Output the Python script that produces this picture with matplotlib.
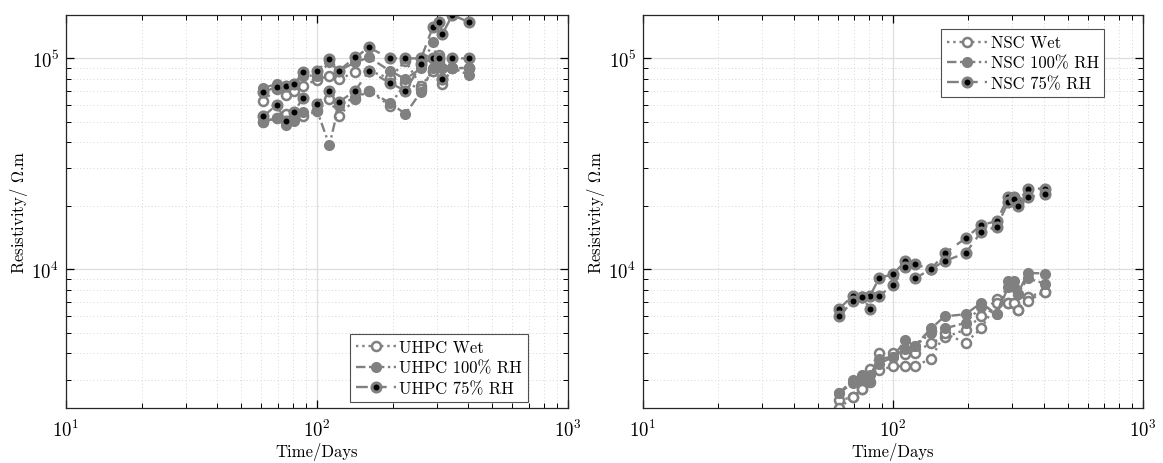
import matplotlib
matplotlib.use('Agg')
import matplotlib.pyplot as plt
from matplotlib.ticker import LogLocator, NullFormatter

plt.rcParams['font.family'] = ['cmr10', 'DejaVu Serif']
plt.rcParams['mathtext.fontset'] = 'cm'
plt.rcParams['axes.formatter.use_mathtext'] = True

# ages of the measurements (days), shared by every series
days = [61, 69, 75, 81, 88, 100, 112, 122, 142, 161, 195, 225, 260, 289, 306, 316, 346, 404]

# UHPC resistivity, two specimens per curing condition (Ohm.m)
uhpc_wet_a = [62900, 71400, 66900, 70100, 74000, 79000, 82600, 79600, 85600, 87100,
              80200, 97100, 73500, 87100, 104000, 75400, 89400, 90000]
uhpc_wet_b = [50000, 52000, 54400, 53500, 53100, 56000, 64100, 53100, 64100, 70000,
              59600, 76200, 71400, 87100, 97000, 80000, 89400, 90000]
uhpc_100_a = [72200, 75400, 73500, 75400, 82600, 82600, 95400, 87100, 95400, 100800,
              87100, 79600, 89400, 119000, 91000, 90000, 89400, 90000]
uhpc_100_b = [49700, 52100, 48000, 50600, 55800, 56500, 38600, 59600, 65300, 70100,
              61300, 54400, 69400, 90000, 91000, 90000, 90000, 83000]
uhpc_75_a = [68900, 73000, 73500, 75000, 86100, 87100, 99000, 87100, 100800, 112300,
             99700, 99700, 99700, 140000, 149000, 130000, 160000, 148000]
uhpc_75_b = [52900, 60000, 50100, 55800, 64600, 60700, 70100, 61800, 70100, 87100,
             76200, 70100, 93700, 99700, 99700, 79600, 99700, 99700]

# NSC resistivity (Ohm.m)
nsc_wet_a = [2390, 2480, 2720, 3380, 4010, 4010, 3980, 4010, 4480, 4750,
             5180, 5980, 7260, 6880, 6920, 6440, 7400, 7810]
nsc_wet_b = [2200, 2480, 2720, 2920, 3320, 3470, 3470, 3470, 3770, 4960,
             4480, 5240, 6880, 6880, 6920, 6440, 7080, 7810]
nsc_100_a = [2590, 3000, 3150, 3150, 3770, 3840, 4610, 4320, 5240, 5980,
             6120, 6920, 6120, 8800, 8800, 7670, 9610, 9540]
nsc_100_b = [2590, 2890, 2980, 2920, 3570, 3840, 4210, 4320, 4990, 5240,
             5570, 6630, 6120, 8250, 8250, 7670, 9040, 8550]
nsc_75_a = [6510, 7480, 7390, 7480, 9090, 9470, 10900, 10560, 10000, 11900,
            14000, 16200, 16900, 22000, 22000, 20800, 24100, 24100]
nsc_75_b = [5980, 7080, 7390, 6510, 7480, 8400, 10250, 9040, 10000, 10940,
            11900, 15000, 15900, 20800, 21400, 19900, 21900, 22800]

GRAY = '#808080'

STYLES = {
    'wet': dict(linestyle=':', marker='o', mfc='white', mec=GRAY, mew=1.8),
    '100': dict(linestyle=(0, (4, 1.5, 1, 1.5)), marker='o', mfc=GRAY, mec=GRAY, mew=1.5),
    '75': dict(linestyle=(0, (5, 3)), marker='o', mfc='black', mec=GRAY, mew=2.2),
}


def plot_series(ax, values, kind, label=None):
    ax.plot(days, values, color=GRAY, lw=1.7, ms=6.5, label=label, **STYLES[kind])


def style_axes(ax):
    ax.set_xscale('log')
    ax.set_yscale('log')
    ax.set_xlim(10, 1000)
    ax.set_ylim(2200, 1.6e5)
    ax.xaxis.set_major_locator(LogLocator(base=10))
    ax.xaxis.set_minor_locator(LogLocator(base=10, subs=range(2, 10)))
    ax.yaxis.set_minor_locator(LogLocator(base=10, subs=range(2, 10)))
    ax.xaxis.set_minor_formatter(NullFormatter())
    ax.yaxis.set_minor_formatter(NullFormatter())
    ax.grid(True, which='major', color='#dedede', lw=0.9, ls='-')
    ax.grid(True, which='minor', color='#d6d6d6', lw=0.7, ls=(0, (1, 2.5)))
    ax.set_axisbelow(True)
    ax.tick_params(which='both', direction='in', top=True, right=True, labelsize=13.5)
    ax.tick_params(axis='x', pad=8)
    ax.tick_params(axis='y', pad=5)
    ax.tick_params(which='major', length=6, width=0.9)
    ax.tick_params(which='minor', length=3.5, width=0.7)
    for sp in ax.spines.values():
        sp.set_color('#262626')
        sp.set_linewidth(0.9)
    ax.set_xlabel('Time/Days', fontsize=12, labelpad=1)
    ax.set_ylabel(r'Resistivity/ $\Omega$.m', fontsize=12, labelpad=1)


fig = plt.figure(figsize=(11.63, 4.64), dpi=100)
ax1 = fig.add_axes([0.0568, 0.1185, 0.4316, 0.847])
ax2 = fig.add_axes([0.5529, 0.1185, 0.4299, 0.847])

plot_series(ax1, uhpc_wet_a, 'wet', 'UHPC Wet')
plot_series(ax1, uhpc_wet_b, 'wet')
plot_series(ax1, uhpc_100_a, '100', 'UHPC 100% RH')
plot_series(ax1, uhpc_100_b, '100')
plot_series(ax1, uhpc_75_a, '75', 'UHPC 75% RH')
plot_series(ax1, uhpc_75_b, '75')

plot_series(ax2, nsc_wet_a, 'wet', 'NSC Wet')
plot_series(ax2, nsc_wet_b, 'wet')
plot_series(ax2, nsc_100_a, '100', 'NSC 100% RH')
plot_series(ax2, nsc_100_b, '100')
plot_series(ax2, nsc_75_a, '75', 'NSC 75% RH')
plot_series(ax2, nsc_75_b, '75')

for ax in (ax1, ax2):
    style_axes(ax)

leg_kw = dict(fontsize=12, handlelength=2.4, handletextpad=0.2, borderpad=0.35,
              labelspacing=0.3, fancybox=False, framealpha=1, edgecolor='#505050')
leg1 = ax1.legend(loc='lower right', bbox_to_anchor=(0.937, -0.005), **leg_kw)
leg2 = ax2.legend(loc='upper left', bbox_to_anchor=(0.58, 0.985), **leg_kw)
for leg in (leg1, leg2):
    leg.get_frame().set_linewidth(0.8)

fig.savefig('out.png', dpi=100)
